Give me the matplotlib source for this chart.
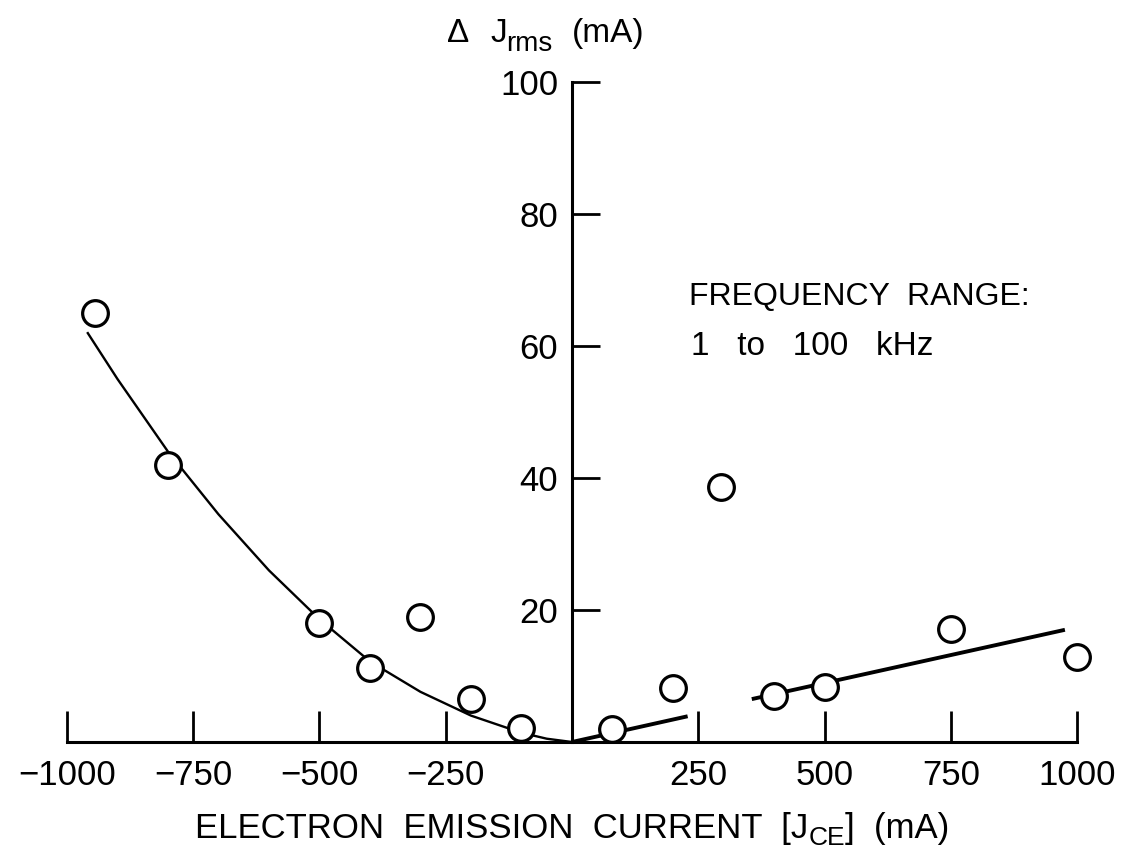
import matplotlib
matplotlib.use("Agg")
import matplotlib.pyplot as plt
from matplotlib.transforms import IdentityTransform

plt.rcParams['font.family'] = ['Liberation Sans', 'DejaVu Sans']

# Measured points: emission current (mA) vs. delta J_rms (mA)
emission_current = [-945, -800, -500, -400, -300, -200, -100, 80, 200, 295, 400, 500, 750, 1000]
delta_jrms = [65, 42, 18, 11.2, 19, 6.5, 2.1, 2.0, 8.2, 38.6, 6.9, 8.3, 17.1, 12.9]

# Trend curve for negative emission current
curve_x = [-960, -900, -800, -700, -600, -500, -400, -300, -200, -100, -50, 0]
curve_y = [62.1, 55.0, 44.0, 34.5, 26.0, 18.6, 12.2, 7.6, 4.0, 1.4, 0.5, 0.0]

# Short trend line near zero
near_x = [0, 229]
near_y = [0.0, 3.9]

# Trend line for positive emission current
pos_x = [356, 976]
pos_y = [6.5, 17.0]

xticks = [-1000, -750, -500, -250, 250, 500, 750, 1000]
xtick_labels = ['\u22121000', '\u2212750', '\u2212500', '\u2212250', '250', '500', '750', '1000']
yticks = [20, 40, 60, 80, 100]
ytick_labels = ['20', '40', '60', '80', '100']

W, H = 1133, 863
fig = plt.figure(figsize=(W / 100, H / 100), dpi=100)
ax = fig.add_axes([0.0591, 0.1402, 0.8915, 0.7648])
ax.set_xlim(-1000, 1000)
ax.set_ylim(0, 100)

for side in ('top', 'right'):
    ax.spines[side].set_visible(False)
ax.spines['left'].set_position(('data', 0))
ax.spines['bottom'].set_position(('data', 0))
for side in ('left', 'bottom'):
    ax.spines[side].set_linewidth(2.2)
    ax.spines[side].set_color('black')

ax.set_xticks(xticks)
ax.set_xticklabels(xtick_labels)
ax.set_yticks(yticks)
ax.set_yticklabels(ytick_labels)
ax.tick_params(axis='x', direction='in', length=22, width=2.0, labelsize=25, pad=12)
ax.tick_params(axis='y', direction='in', length=20, width=2.0, labelsize=25, pad=10)

ax.plot(curve_x, curve_y, color='black', lw=1.7, solid_capstyle='butt', zorder=2)
ax.plot(near_x, near_y, color='black', lw=2.8, solid_capstyle='butt', zorder=2)
ax.plot(pos_x, pos_y, color='black', lw=2.8, solid_capstyle='butt', zorder=2)

ax.plot(emission_current, delta_jrms, linestyle='none', marker='o', markersize=18.5,
        markerfacecolor='white', markeredgecolor='black', markeredgewidth=2.3,
        clip_on=False, zorder=3)


def text_run(pieces, x_px, y_px, align='left'):
    """Place consecutive text pieces (text, size, drop below baseline in px) on one line.
    Pixel coordinates are measured from the top-left corner of the figure."""
    renderer = fig.canvas.get_renderer()
    items = []
    for s, size, drop in pieces:
        t = fig.text(0, 0, s, fontsize=size, ha='left', va='baseline',
                     transform=IdentityTransform())
        w = t.get_window_extent(renderer).width
        items.append((t, w, drop))
    total = sum(w for _, w, _ in items)
    x = x_px - total / 2 if align == 'center' else x_px
    for t, w, drop in items:
        t.set_position((x, H - y_px - drop))
        x += w


# y-axis title
text_run([('\u0394', 24, 0)], 447, 42)
text_run([('J', 24, 0), ('rms', 20, 9)], 490, 42)
text_run([('(mA)', 24, 0)], 572, 42)

text_run([('FREQUENCY  RANGE:', 23, 0)], 689, 305)
text_run([('1   to   100   kHz', 24, 0)], 691, 355)
text_run([('ELECTRON  EMISSION  CURRENT  [J', 25, 0), ('CE', 19, 7), (']  (mA)', 25, 0)],
         572, 838, align='center')

fig.savefig('out.png', dpi=100)
